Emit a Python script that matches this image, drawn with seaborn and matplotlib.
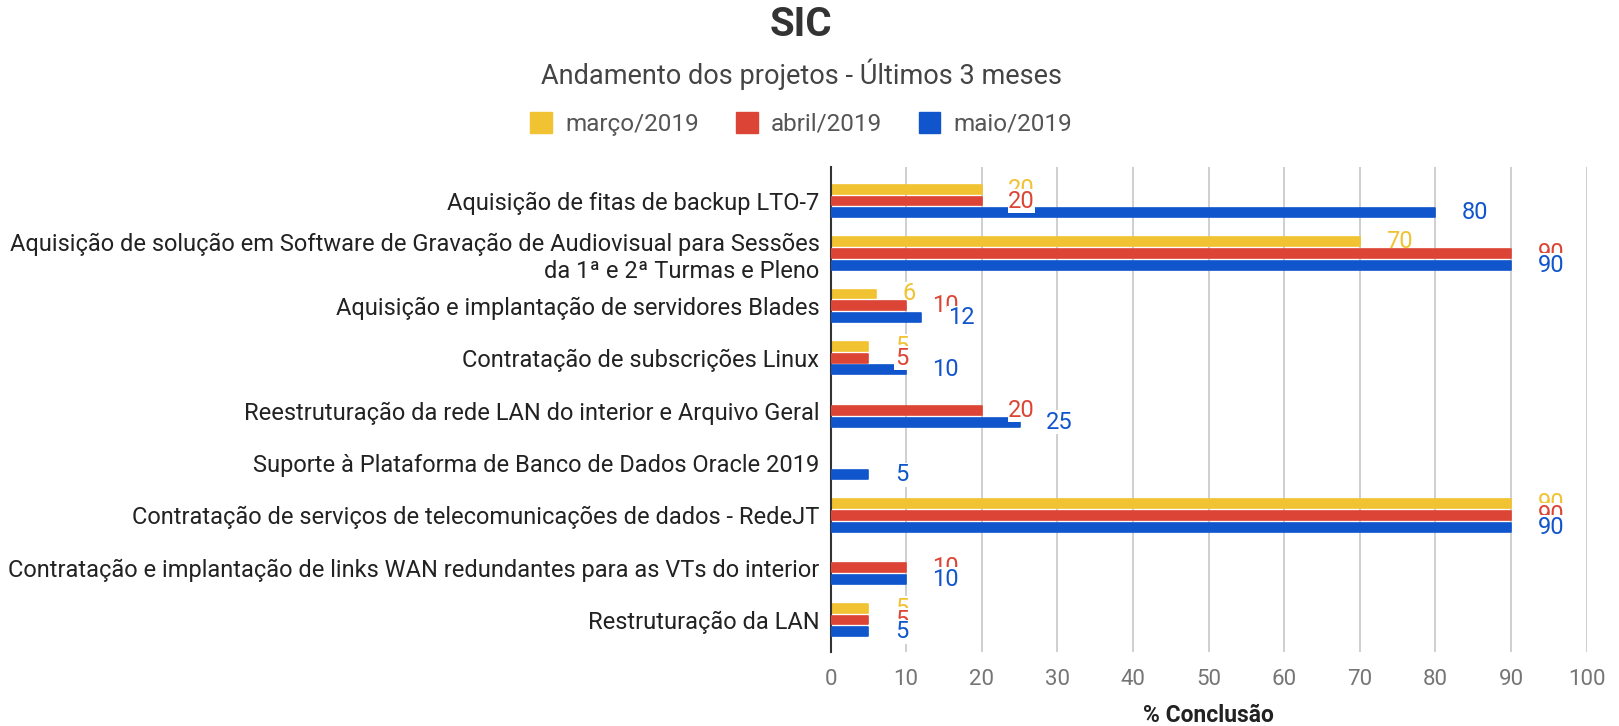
import numpy as np
import pandas as pd
import matplotlib.pyplot as plt
import seaborn as sns

# Project names (y axis) and progress per month
projects = [
    "Aquisição de fitas de backup LTO-7",
    "Aquisição de solução em Software de Gravação de Audiovisual para Sessões\nda 1ª e 2ª Turmas e Pleno",
    "Aquisição e implantação de servidores Blades",
    "Contratação de subscrições Linux",
    "Reestruturação da rede LAN do interior e Arquivo Geral",
    "Suporte à Plataforma de Banco de Dados Oracle 2019",
    "Contratação de serviços de telecomunicações de dados - RedeJT",
    "Contratação e implantação de links WAN redundantes para as VTs do interior",
    "Restruturação da LAN",
]
months = ["março/2019", "abril/2019", "maio/2019"]
marco = [20, 70, 6, 5, np.nan, np.nan, 90, np.nan, 5]
abril = [20, 90, 10, 5, 20, np.nan, 90, 10, 5]
maio = [80, 90, 12, 10, 25, 5, 90, 10, 5]
colors = ["#f1c232", "#dc4535", "#1155cc"]

df = pd.DataFrame({"Projeto": projects * 3,
                   "Mês": [m for m in months for _ in projects],
                   "Conclusão": marco + abril + maio})

sns.set_style("white")
plt.rcParams["font.family"] = ["Roboto", "DejaVu Sans"]

fig = plt.figure(figsize=(16.19, 7.26), dpi=100)
ax = fig.add_axes([0.513, 0.102, 0.467, 0.668])

sns.barplot(data=df, y="Projeto", x="Conclusão", hue="Mês", order=projects,
            hue_order=months, palette=colors, orient="h", width=0.675, gap=0.24,
            ax=ax, legend=False, saturation=1)

# label every series at the bar end, with white background like the original
bar_z = [2, 3, 3]
lab_z = [2.5, 4, 5]
for cont, col, bz, lz in zip(ax.containers, colors, bar_z, lab_z):
    for p in cont:
        p.set_zorder(bz)
        # slightly rounded bar ends
        p.set_edgecolor(col)
        p.set_linewidth(1.2)
        p.set_joinstyle("round")
    labels = ax.bar_label(cont, fmt="%g", padding=19, color=col, fontsize=17,
                          bbox=dict(fc="white", ec="none", pad=0.4))
    for t in labels:
        t.set_zorder(lz)

ax.set_xlim(0, 100)
ax.set_ylim(8.61, -0.65)
ax.set_xticks(range(0, 101, 10))
ax.grid(axis="x", color="#cccccc", lw=1.3, zorder=0)
ax.set_axisbelow(True)
for s in ["top", "right", "bottom"]:
    ax.spines[s].set_visible(False)
ax.spines["left"].set_color("#333333")
ax.spines["left"].set_linewidth(1.5)
ax.tick_params(axis="x", labelsize=16, labelcolor="#757575", length=0, pad=12)
ax.tick_params(axis="y", labelsize=17, labelcolor="#222222", length=0, pad=8)
ax.set_ylabel("")
ax.set_xlabel("% Conclusão", fontsize=16.5, fontweight="bold", color="#222222", labelpad=10)

fig.text(0.495, 0.966, "SIC", ha="center", va="center", fontsize=29,
         fontweight="bold", color="#333333")
fig.text(0.495, 0.898, "Andamento dos projetos - Últimos 3 meses", ha="center",
         va="center", fontsize=19.5, color="#444444")

handles = [plt.Rectangle((0, 0), 1, 1, color=c) for c in colors]
fig.legend(handles, months, loc="center", bbox_to_anchor=(0.495, 0.829), ncol=3,
           frameon=False, fontsize=17.5, labelcolor="#555555", handlelength=0.9,
           handleheight=0.9, columnspacing=1.5, handletextpad=0.55)

fig.savefig("out.png", dpi=100)
